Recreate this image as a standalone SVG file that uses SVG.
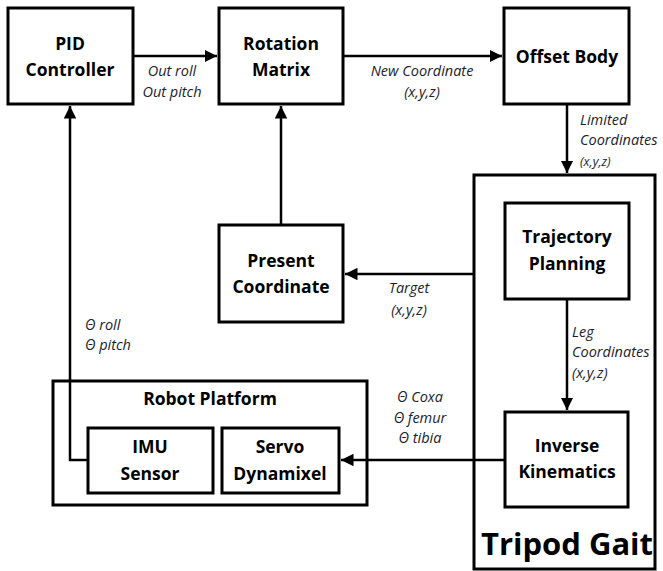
<svg xmlns="http://www.w3.org/2000/svg" width="663" height="571" viewBox="0 0 663 571">
<style>
.box{fill:#fff;stroke:#000;stroke-width:3}
.frame{fill:none;stroke:#000;stroke-width:3}
.t{font-family:"Open Sans","Liberation Sans",sans-serif;font-weight:bold;font-size:17.5px;text-anchor:middle;fill:#000}
.l{font-family:"Open Sans","Liberation Sans",sans-serif;font-style:italic;font-size:14.5px;fill:#1c1c2c}
.c{text-anchor:middle}
.s{font-size:12.5px}
.ln{fill:none;stroke:#000;stroke-width:2.5}
</style>
<defs>
<marker id="ah" viewBox="0 0 10 10" refX="10" refY="5" markerWidth="5" markerHeight="5" orient="auto" markerUnits="strokeWidth">
<path d="M0,0 L10,5 L0,10 z" fill="#000"/>
</marker>
</defs>
<rect width="663" height="571" fill="#fff"/>
<g id="tripod-gait">
<rect class="frame" x="474" y="175" width="181" height="394"/>
<text class="t" x="567" y="555" style="font-size:31px">Tripod Gait</text>
</g>
<g id="robot-platform">
<rect class="frame" x="53" y="381" width="314" height="124"/>
<text class="t" x="210" y="405">Robot Platform</text>
</g>
<g id="connectors">
<path class="ln" d="M133,56 H217" marker-end="url(#ah)"/>
<path class="ln" d="M343,56 H502" marker-end="url(#ah)"/>
<path class="ln" d="M567,104 V173" marker-end="url(#ah)"/>
<path class="ln" d="M474,274 H345" marker-end="url(#ah)"/>
<path class="ln" d="M567,299 V410" marker-end="url(#ah)"/>
<path class="ln" d="M505,460 H341" marker-end="url(#ah)"/>
<path class="ln" d="M88,460 H70 V106" marker-end="url(#ah)"/>
<path class="ln" d="M281,225 V106" marker-end="url(#ah)"/>
</g>
<g id="labels">
<text class="l c" x="172" y="76">Out roll</text>
<text class="l c" x="172" y="97">Out pitch</text>
<text class="l c" x="422" y="76">New Coordinate</text>
<text class="l c" x="422" y="97">(x,y,z)</text>
<text class="l" x="580" y="125">Limited</text>
<text class="l" x="580" y="145">Coordinates</text>
<text class="l s" x="580" y="166">(x,y,z)</text>
<text class="l c" x="409" y="293">Target</text>
<text class="l c" x="409" y="315">(x,y,z)</text>
<text class="l" x="85" y="330">Θ roll</text>
<text class="l" x="85" y="350">Θ pitch</text>
<text class="l" x="572" y="337">Leg</text>
<text class="l" x="572" y="357">Coordinates</text>
<text class="l" x="572" y="378">(x,y,z)</text>
<text class="l c" x="420" y="402">Θ Coxa</text>
<text class="l c" x="420" y="423">Θ femur</text>
<text class="l c" x="420" y="443">Θ tibia</text>
</g>
<g id="pid-controller">
<rect class="box" x="8" y="8" width="125" height="96"/>
<text class="t" x="70" y="50">PID</text>
<text class="t" x="70" y="76">Controller</text>
</g>
<g id="rotation-matrix">
<rect class="box" x="219" y="8" width="124" height="96"/>
<text class="t" x="281" y="50">Rotation</text>
<text class="t" x="281" y="76">Matrix</text>
</g>
<g id="offset-body">
<rect class="box" x="504" y="8" width="125" height="96"/>
<text class="t" x="567" y="63">Offset Body</text>
</g>
<g id="trajectory-planning">
<rect class="box" x="505" y="203" width="124" height="96"/>
<text class="t" x="567" y="243">Trajectory</text>
<text class="t" x="567" y="270">Planning</text>
</g>
<g id="present-coordinate">
<rect class="box" x="219" y="225" width="124" height="97"/>
<text class="t" x="281" y="267">Present</text>
<text class="t" x="281" y="293">Coordinate</text>
</g>
<g id="imu-sensor">
<rect class="box" x="88" y="428" width="125" height="65"/>
<text class="t" x="150" y="453">IMU</text>
<text class="t" x="150" y="480">Sensor</text>
</g>
<g id="servo-dynamixel">
<rect class="box" x="222" y="428" width="117" height="65"/>
<text class="t" x="280" y="453">Servo</text>
<text class="t" x="280" y="480">Dynamixel</text>
</g>
<g id="inverse-kinematics">
<rect class="box" x="505" y="412" width="123" height="95"/>
<text class="t" x="567" y="452">Inverse</text>
<text class="t" x="567" y="478">Kinematics</text>
</g>
</svg>
